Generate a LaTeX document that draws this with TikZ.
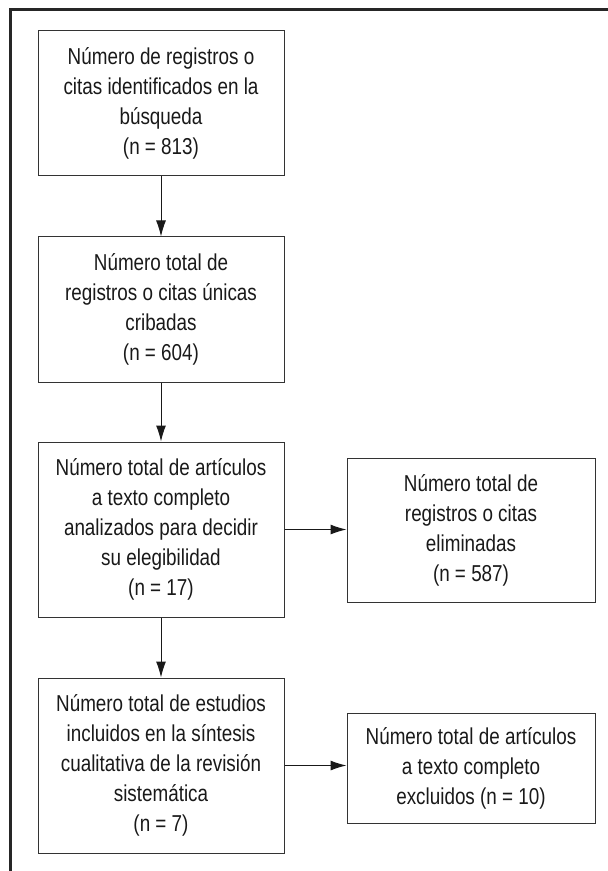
\documentclass[tikz,border=0pt]{standalone}
\usepackage{fontspec}
\setmainfont{Liberation Sans}[FakeStretch=0.82]
\usetikzlibrary{arrows.meta}
\tikzset{
	caja/.style={draw=black!80, line width=0.5pt, align=center, inner sep=0pt, text=black!90, font=\fontsize{11.5}{15}\selectfont},
	flecha/.style={-{Latex[length=8pt,width=5pt]}, line width=0.5pt, black!90},
}
\begin{document}
\begin{tikzpicture}[x=0.5pt,y=-0.5pt]
	%\draw[help lines] (0,0) grid[step=50] (608,871);
	\useasboundingbox (0,0) rectangle (608,871);
	\draw[line width=1.5pt, black!85] (10,871) -- (10,10) -- (608,10);
	\node[caja, minimum width=123pt, minimum height=72.5pt] (busqueda) at (161,103.5) {Número de registros o\\citas identificados en la\\búsqueda\\(n = 813)};
	\node[caja, minimum width=123pt, minimum height=72.5pt] (cribadas) at (161,309.5) {Número total de\\registros o citas únicas\\cribadas\\(n = 604)};
	\node[caja, minimum width=123pt, minimum height=87.5pt] (analizados) at (161,529.5) {Número total de artículos\\a texto completo\\analizados para decidir\\su elegibilidad\\(n = 17)};
	\node[caja, minimum width=124pt, minimum height=72pt] (eliminadas) at (471,530) {Número total de\\registros o citas\\eliminadas\\(n = 587)};
	\node[caja, minimum width=123pt, minimum height=87.5pt] (incluidos) at (161,765.5) {Número total de estudios\\incluidos en la síntesis\\cualitativa de la revisión\\sistemática\\(n = 7)};
	\node[caja, minimum width=124pt, minimum height=55pt] (excluidos) at (471,768) {Número total de artículos\\a texto completo\\excluidos (n = 10)};
	\draw[flecha] (busqueda) -- (cribadas);
	\draw[flecha] (cribadas) -- (analizados);
	\draw[flecha] (analizados) -- (incluidos);
	\draw[flecha] (analizados.east) -- (analizados.east -| eliminadas.west);
	\draw[flecha] (incluidos.east) -- (incluidos.east -| excluidos.west);
\end{tikzpicture}
\end{document}
